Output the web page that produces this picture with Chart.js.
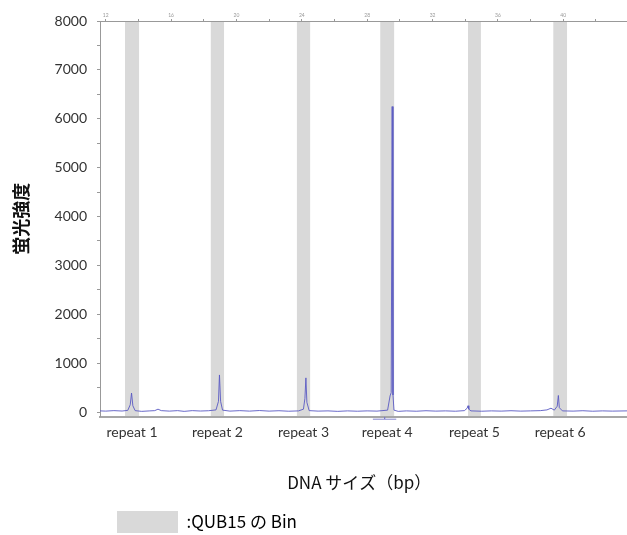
<!DOCTYPE html>
<html>
<head>
<meta charset="utf-8">
<script src="https://cdn.jsdelivr.net/npm/chart.js@4"></script>
<style>
  body { margin: 0; background: #fff; }
</style>
</head>
<body>
<canvas id="myChart" width="627" height="535"></canvas>
<script>
// 波形データ（上軸の目盛り単位）
const traceX = [11.65, 12.0, 12.5, 13.0, 13.35, 13.5, 13.58, 13.66, 13.8, 14.2, 14.7, 15.0, 15.2, 15.4, 15.9, 16.4, 16.8, 17.3, 17.8, 18.3, 18.75, 18.9, 18.96, 19.03, 19.15, 19.6, 20.2, 20.8, 21.4, 22.0, 22.6, 23.2, 23.8, 24.1, 24.19, 24.25, 24.31, 24.45, 25.0, 25.6, 26.2, 26.8, 27.4, 28.0, 28.6, 29.25, 29.4, 29.47, 29.53, 29.58, 29.64, 29.9, 30.4, 31.0, 31.6, 32.2, 32.8, 33.4, 33.95, 34.12, 34.17, 34.22, 34.35, 35.0, 35.6, 36.2, 36.8, 37.4, 38.0, 38.6, 39.0, 39.25, 39.45, 39.63, 39.7, 39.76, 39.95, 40.6, 41.2, 41.8, 42.4, 43.0, 43.9];
const traceY = [25, 20, 30, 22, 35, 150, 390, 130, 30, 15, 25, 30, 60, 30, 20, 30, 15, 30, 22, 28, 45, 220, 760, 220, 40, 20, 30, 20, 32, 20, 28, 18, 25, 60, 280, 700, 200, 30, 20, 25, 15, 25, 18, 25, 20, 40, 330, 400, 6250, 350, 40, 15, 25, 18, 28, 20, 25, 18, 30, 80, 130, 60, 25, 18, 25, 20, 28, 20, 25, 30, 45, 80, 40, 120, 340, 90, 25, 20, 28, 18, 25, 20, 25];

// Bin の範囲
const binStart = [13.18, 18.43, 23.70, 28.80, 34.17, 39.39];
const binEnd = [14.04, 19.24, 24.51, 29.65, 34.96, 40.23];
const repeatLabels = ['repeat 1', 'repeat 2', 'repeat 3', 'repeat 4', 'repeat 5', 'repeat 6'];

// 目盛り
const yTicks = [0, 500, 1000, 1500, 2000, 2500, 3000, 3500, 4000, 4500, 5000, 5500, 6000, 6500, 7000, 7500, 8000];
const topTicks = [12, 14, 16, 18, 20, 22, 24, 26, 28, 30, 32, 34, 36, 38, 40, 42];

// repeat 4 の下のマーカー
const markX = [28.35, 29.07, 29.07, 29.07, 29.78];
const markY = [-145, -145, -100, -145, -145];

// Bin の灰色の帯を描くプラグイン
const binPlugin = {
  id: 'bins',
  beforeDraw(chart) {
    const { ctx, chartArea, scales } = chart;
    ctx.save();
    ctx.fillStyle = '#d9d9d9';
    binStart.forEach((s, i) => {
      const x0 = scales.x.getPixelForValue(s);
      const x1 = scales.x.getPixelForValue(binEnd[i]);
      ctx.fillRect(x0, chartArea.top, x1 - x0, chartArea.bottom - chartArea.top);
    });
    ctx.restore();
  },
  afterLayout(chart) {
    // 凡例の位置を少しずらす
    chart.legend.left += 113;
    chart.legend.top += 8;
  }
};

const ctx = document.getElementById('myChart').getContext('2d');
const myChart = new Chart(ctx, {
  type: 'line',
  data: {
    datasets: [{
      data: traceX.map((x, i) => ({ x: x, y: traceY[i] })),
      borderColor: 'rgba(90,90,195,0.9)',
      borderWidth: 1,
      pointRadius: 0,
      tension: 0,
      xAxisID: 'x',
      yAxisID: 'y'
    }, {
      data: markX.map((x, i) => ({ x: x, y: markY[i] })),
      borderColor: 'rgba(120,120,200,0.9)',
      borderWidth: 1,
      pointRadius: 0,
      clip: false,
      xAxisID: 'x',
      yAxisID: 'y'
    }]
  },
  plugins: [binPlugin],
  options: {
    responsive: false,
    animation: false,
    layout: { padding: 0 },
    plugins: {
      tooltip: { enabled: false },
      legend: {
        display: true,
        position: 'bottom',
        align: 'start',
        labels: {
          boxWidth: 61,
          boxHeight: 22,
          padding: 4,
          color: '#111',
          font: { family: '"Noto Sans CJK JP"', size: 17 },
          generateLabels: () => [{
            text: ':QUB15 の Bin',
            fillStyle: '#d9d9d9',
            strokeStyle: '#d9d9d9',
            lineWidth: 0,
            hidden: false,
            datasetIndex: 0
          }]
        }
      }
    },
    scales: {
      x: {
        type: 'linear',
        position: 'top',
        min: 11.65,
        max: 43.9,
        afterBuildTicks: s => { s.ticks = topTicks.map(v => ({ value: v })); },
        afterFit: s => { s.height = 21; },
        grid: { drawOnChartArea: false, tickLength: 2, color: '#999' },
        border: { color: '#999' },
        ticks: {
          padding: 1,
          maxRotation: 0,
          autoSkip: false,
          color: '#999',
          font: { family: 'Lato', size: 5 },
          callback: v => (v % 4 === 0 ? v : '')
        }
      },
      xb: {
        type: 'linear',
        position: 'bottom',
        min: 11.65,
        max: 43.9,
        afterBuildTicks: s => {
          s.ticks = binStart.map((b, i) => ({ value: (b + binEnd[i]) / 2 }));
        },
        afterFit: s => { s.height = 82.5; },
        grid: { drawOnChartArea: false, drawTicks: false },
        border: { color: '#a6a6a6', width: 2 },
        ticks: {
          padding: 8,
          maxRotation: 0,
          autoSkip: false,
          color: '#333',
          font: { family: 'Lato', size: 14 },
          callback: (v, i) => repeatLabels[i]
        },
        title: {
          display: true,
          text: 'DNA サイズ（bp）　',
          color: '#111',
          padding: { top: 0, bottom: 6 },
          font: { family: '"Noto Sans CJK JP"', size: 17 }
        }
      },
      y: {
        min: -90,
        max: 8000,
        afterBuildTicks: s => { s.ticks = yTicks.map(v => ({ value: v })); },
        afterFit: s => { s.width = 100; },
        grid: { drawOnChartArea: false, tickLength: 3, color: '#999' },
        border: { color: '#999' },
        ticks: {
          padding: 10,
          color: '#333',
          font: { family: 'Lato', size: 14 },
          callback: v => (v % 1000 === 0 ? v : '')
        },
        title: {
          display: true,
          text: '蛍光強度',
          color: '#111',
          padding: { top: 10, bottom: 0 },
          font: { family: '"Noto Sans CJK JP"', size: 18, weight: 'bold' }
        }
      }
    }
  }
});
</script>
</body>
</html>
